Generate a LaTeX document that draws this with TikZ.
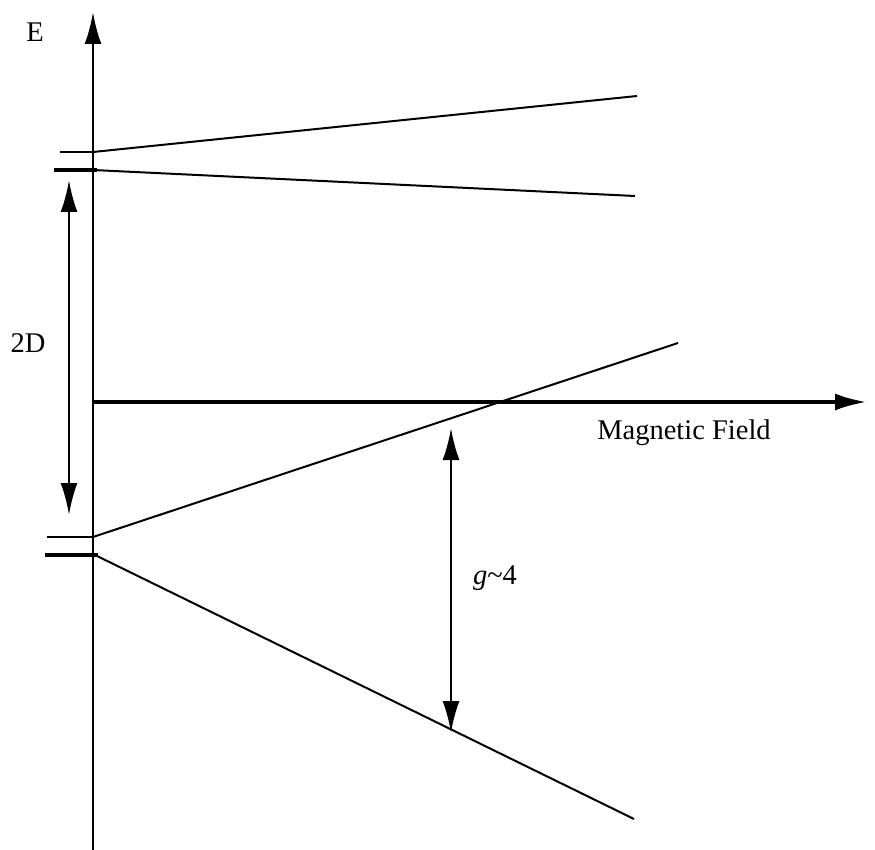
\documentclass[tikz,border=0pt]{standalone}
\usepackage{fontspec}
\setmainfont{Liberation Serif}
\usetikzlibrary{arrows.meta}
\begin{document}
\begin{tikzpicture}[x=1pt,y=-1pt,line join=miter,
 >={Latex[length=32pt,width=17pt]},
 font=\fontsize{28.5}{34}\selectfont,
 axis/.style={line width=2.8pt,->},
 level/.style={line width=2.2pt},
 split/.style={line width=2pt},
 gap/.style={line width=2.7pt,<->}]
\useasboundingbox (0,0) rectangle (875,850);
% axes
\coordinate (ybot) at (93,852);
\coordinate (ytop) at (93,12);
\coordinate (xleft) at (93,402);
\coordinate (xright) at (867,402);
\draw[axis] (ybot)--(ytop);
\draw[axis,line width=4pt] (xleft)--(xright);
\node (E) at (35,32) {E};
\node (field) at (684,433) {Magnetic Field};
% upper doublet
\coordinate (u1) at (93,152);
\coordinate (u2) at (93,170);
\coordinate (u1a) at (60,152);
\coordinate (u2a) at (54,170);
\coordinate (u2b) at (97,170);
\coordinate (u1e) at (637,96);
\coordinate (u2e) at (635,196);
\draw[level] (u1a)--(u1);
\draw[line width=4pt] (u2a)--(u2b);
\draw[split] (u1)--(u1e);
\draw[split] (u2)--(u2e);
% lower doublet
\coordinate (l1) at (93,537);
\coordinate (l2) at (95,555);
\coordinate (l1a) at (47,537);
\coordinate (l2a) at (45,555);
\coordinate (l2b) at (98,555);
\coordinate (l1e) at (678,343);
\coordinate (l2e) at (634,819);
\draw[level] (l1a)--(l1);
\draw[line width=4pt] (l2a)--(l2b);
\draw[split] (l1)--(l1e);
\draw[split] (l2)--(l2e);
% splittings
\coordinate (dtop) at (69,180);
\coordinate (dbot) at (69,515);
\draw[gap] (dtop)--(dbot);
\node (twoD) at (28,343) {2D};
\coordinate (gtop) at (451,428);
\coordinate (gbot) at (451,733);
\draw[gap] (gtop)--(gbot);
\node (gfac) at (495,578) {\textit{g}\textasciitilde4};
\end{tikzpicture}
\end{document}
